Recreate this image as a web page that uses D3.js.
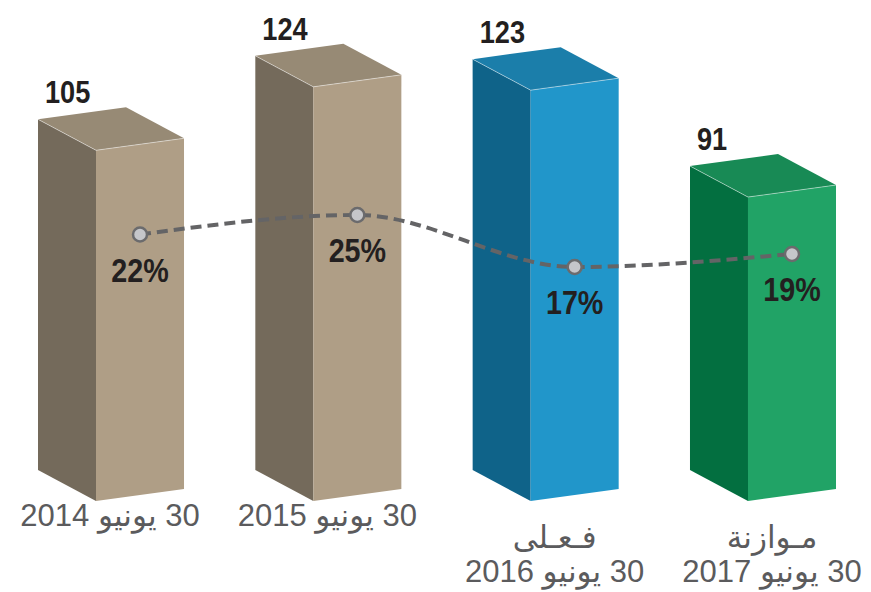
<!DOCTYPE html>
<html>
<head>
<meta charset="utf-8">
<script src="https://cdn.jsdelivr.net/npm/d3@7"></script>
<style>
  body { margin: 0; background: #fff; }
  svg { display: block; }
</style>
</head>
<body>
<script>
// chart data
var categories = ["2014", "2015", "2016", "2017"];
var values = [105, 124, 123, 91];
var percents = [22, 25, 17, 19];
var labelLines = [
  ["30 يونيو 2014"],
  ["30 يونيو 2015"],
  ["فـعـلى", "30 يونيو 2016"],
  ["مـوازنة", "30 يونيو 2017"]
];

// face colours per bar: front, side, top
var palette = [
  { front: "#af9e86", side: "#746a5b", top: "#978a75" },
  { front: "#af9e86", side: "#746a5b", top: "#978a75" },
  { front: "#2196ca", side: "#0f6389", top: "#1b7eaa" },
  { front: "#21a366", side: "#036f40", top: "#188a55" }
];

var svgWidth = 871;
var svgHeight = 592;

// 3d look: side goes up-left, front face tilts up to the right
var depthX = -58, depthY = -31, tilt = 12;

var svg = d3.select("body")
  .append("svg")
  .attr("width", svgWidth)
  .attr("height", svgHeight);

var x = d3.scaleBand()
  .domain(categories)
  .range([96, 836])
  .paddingInner(0.595)
  .paddingOuter(0);

var y = d3.scaleLinear()
  .domain([0, 150])
  .range([501, 0]);

// secondary scale for the percentage line
var yPct = d3.scaleLinear()
  .domain([17, 25])
  .range([267, 215]);

var bars = svg.append("g")
  .selectAll("g")
  .data(categories)
  .enter()
  .append("g");

function pts(a) { return a.map(p => p.join(",")).join(" "); }

bars.each(function(c, i) {
  var g = d3.select(this);
  var fx = x(c), fw = x.bandwidth();
  var base = y(0), top = y(values[i]);

  // side face
  g.append("polygon")
    .attr("points", pts([[fx + depthX, top + depthY], [fx, top], [fx, base], [fx + depthX, base + depthY]]))
    .attr("fill", palette[i].side);

  // front face
  g.append("polygon")
    .attr("points", pts([[fx, top], [fx + fw, top - tilt], [fx + fw, base - tilt], [fx, base]]))
    .attr("fill", palette[i].front);

  // top face
  g.append("polygon")
    .attr("points", pts([[fx + depthX, top + depthY], [fx + depthX + fw, top + depthY - tilt], [fx + fw, top - tilt], [fx, top]]))
    .attr("fill", palette[i].top);

  // light edge along the top
  g.append("polyline")
    .attr("points", pts([[fx + depthX, top + depthY], [fx, top], [fx + fw, top - tilt]]))
    .attr("fill", "none")
    .attr("stroke", "#ffffff")
    .attr("stroke-opacity", 0.45)
    .attr("stroke-width", 1);

  // value label
  g.append("text")
    .attr("transform", `translate(${fx - 51}, ${top - 47}) scale(0.85,1)`)
    .attr("font-family", "'Liberation Sans', Arial, sans-serif")
    .attr("font-weight", "bold")
    .attr("font-size", 32)
    .attr("fill", "#231f20")
    .text(values[i]);

  // category label (arabic, rtl)
  var lines = labelLines[i];
  var cx = fx + (lines.length > 1 ? 24 : 14);
  var firstBase = lines.length > 1 ? 548 : 526;
  lines.forEach(function(t, k) {
    g.append("text")
      .attr("x", cx)
      .attr("y", firstBase + k * 34)
      .attr("direction", "rtl")
      .attr("text-anchor", "middle")
      .attr("font-family", "'Liberation Sans', Arial, 'DejaVu Sans', sans-serif")
      .attr("font-size", 31)
      .attr("fill", "#5b5b5d")
      .text(t);
  });
});

// percentage line
var lineData = categories.map((c, i) => ({ c: c, p: percents[i] }));

var line = d3.line()
  .x(d => x(d.c) + x.bandwidth() / 2)
  .y(d => yPct(d.p))
  .curve(d3.curveMonotoneX);

svg.append("path")
  .datum(lineData)
  .attr("d", line)
  .attr("fill", "none")
  .attr("stroke", "#646466")
  .attr("stroke-width", 4)
  .attr("stroke-dasharray", "11,6");

svg.selectAll(".dot")
  .data(lineData)
  .enter()
  .append("circle")
  .attr("class", "dot")
  .attr("cx", d => x(d.c) + x.bandwidth() / 2)
  .attr("cy", d => yPct(d.p))
  .attr("r", 7)
  .attr("fill", "#c5c6ca")
  .attr("stroke", "#6b6b6d")
  .attr("stroke-width", 2.5);

svg.selectAll(".pct")
  .data(lineData)
  .enter()
  .append("text")
  .attr("class", "pct")
  .attr("transform", d => `translate(${x(d.c) + x.bandwidth() / 2}, ${yPct(d.p) + 47}) scale(0.87,1)`)
  .attr("text-anchor", "middle")
  .attr("font-family", "'Liberation Sans', Arial, sans-serif")
  .attr("font-weight", "bold")
  .attr("font-size", 33)
  .attr("fill", "#231f20")
  .text(d => d.p + "%");
</script>
</body>
</html>
